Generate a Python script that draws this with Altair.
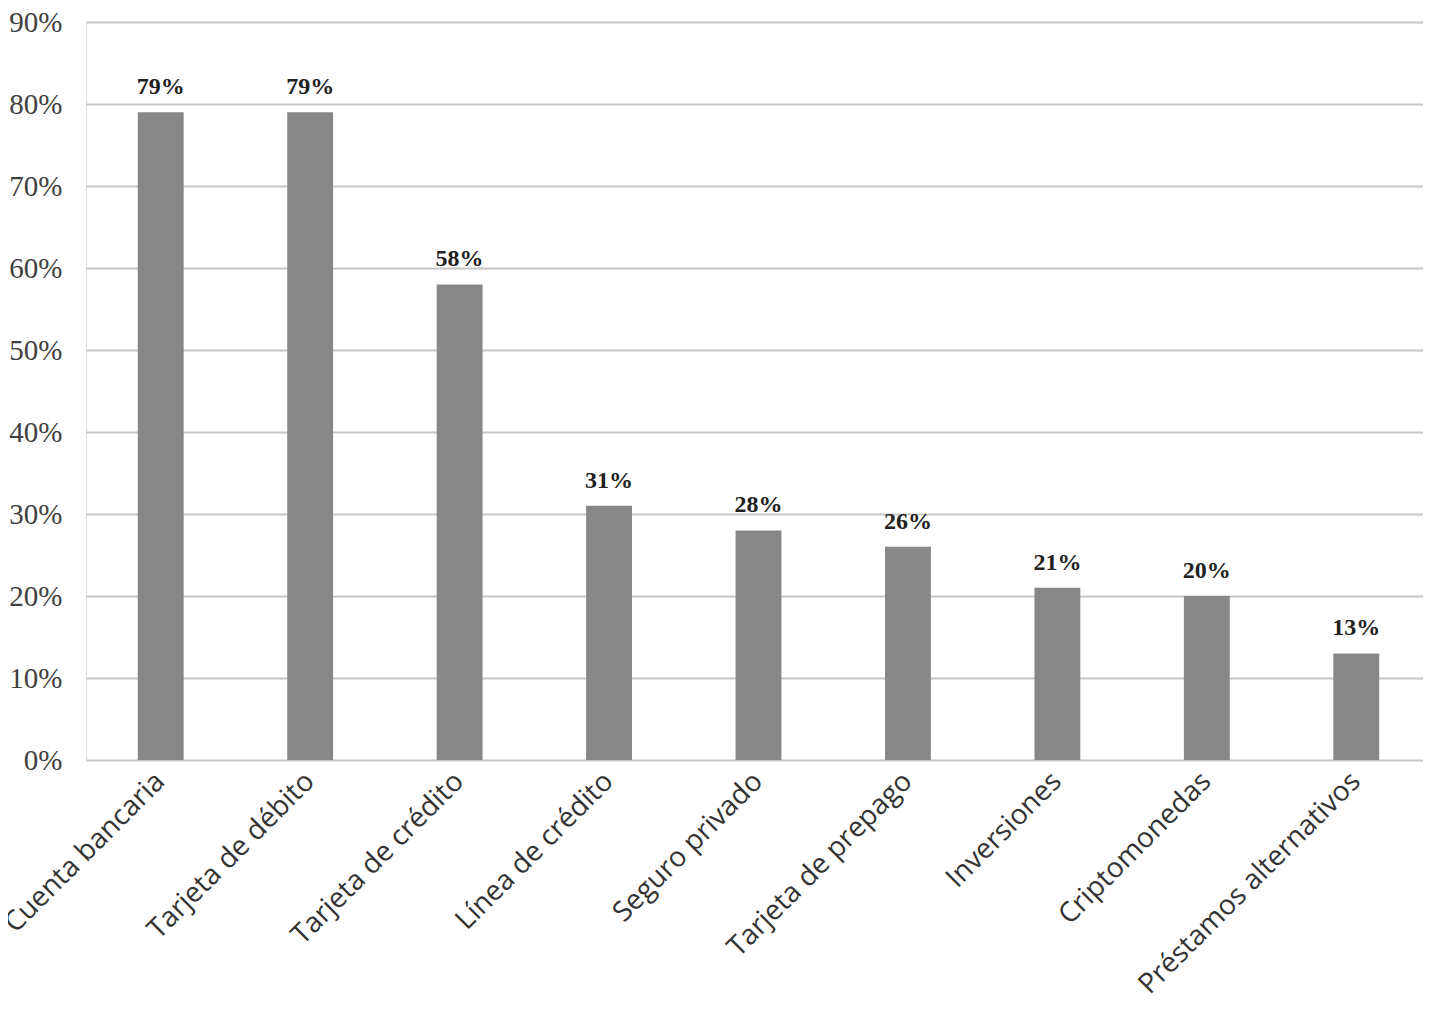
import altair as alt
import pandas as pd

categories = ["Cuenta bancaria", "Tarjeta de débito", "Tarjeta de crédito", "Línea de crédito",
              "Seguro privado", "Tarjeta de prepago", "Inversiones", "Criptomonedas",
              "Préstamos alternativos"]
values = [0.79, 0.79, 0.58, 0.31, 0.28, 0.26, 0.21, 0.20, 0.13]
labels = ["79%", "79%", "58%", "31%", "28%", "26%", "21%", "20%", "13%"]

df = pd.DataFrame({"cat": categories, "val": values, "lab": labels})

x = alt.X("cat:N", sort=categories, title=None,
          scale=alt.Scale(paddingInner=0.693, paddingOuter=0.3465, range=[0, 1345]),
          axis=alt.Axis(labelAngle=-45, labelAlign="right", labelBaseline="middle",
                        labelFont="Open Sans", labelFontSize=28, labelColor="#333333",
                        labelPadding=17, ticks=False, domain=False, labelLimit=0))
y = alt.Y("val:Q", title=None,
          scale=alt.Scale(domain=[0, 0.9]),
          axis=alt.Axis(format=".0%", values=[i / 10 for i in range(10)],
                        labelFont="Liberation Serif", labelFontSize=29, labelColor="#404040",
                        labelPadding=24, ticks=False, domain=False,
                        grid=True, gridColor="#c6c6c6", gridWidth=2))

bars = alt.Chart(df).mark_bar(color="#878787").encode(x=x, y=y)
text = alt.Chart(df).mark_text(font="Liberation Serif", fontSize=24, fontWeight="bold",
                               color="#222222", baseline="bottom", dy=-13).encode(
    x=alt.X("cat:N", sort=categories), y="val:Q", text="lab:N")

chart = (bars + text).properties(
    width=1337, height=738,
    autosize=alt.AutoSizeParams(type="none"),
    padding={"left": 78, "top": 14, "right": 0, "bottom": 248},
).configure_view(stroke=None).configure(background="white")

chart.save("out.html", embed_options={"renderer": "svg", "actions": False})
